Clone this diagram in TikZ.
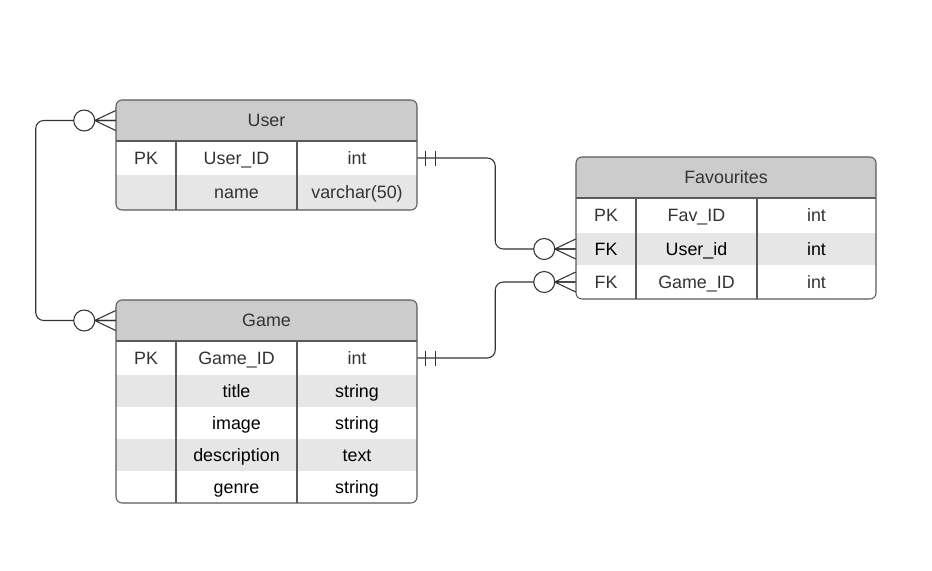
\documentclass[tikz,border=0pt]{standalone}
\usepackage{fontspec}
\setmainfont{Liberation Sans}
\definecolor{hdrgray}{HTML}{CCCCCC}
\definecolor{rowgray}{HTML}{E6E6E6}
\definecolor{edgegray}{HTML}{5A5A5A}
\definecolor{txtgray}{HTML}{333333}

\tikzset{
  every node/.style={font=\fontsize{13.4}{15}\selectfont, text=txtgray,
    inner sep=0pt, text height=9.5pt, text depth=0pt},
  hdr/.style={fill=hdrgray, minimum width=225.75pt, minimum height=30.75pt},
  keycell/.style={minimum width=45pt},
  typecell/.style={minimum width=90pt},
  dark/.style={text=black},
  tbl/.style={draw=edgegray, line width=0.8pt},
  conn/.style={draw=txtgray, line width=0.8pt},
  zeromany/.pic={
    \draw[conn] (-21,0) -- (0,-10) (-21,0) -- (0,0) (-21,0) -- (0,10);
    \draw[conn, fill=white] (-31.5,0) circle[radius=10.5];
  },
  onlyone/.pic={
    \draw[conn] (8,-7.5) -- (8,7.5) (18,-7.5) -- (18,7.5);
  }
}

\begin{document}
\begin{tikzpicture}[x=0.75pt, y=-0.75pt]
  \useasboundingbox[fill=white] (0,0) rectangle (932,571);

  % User
  \begin{scope}
    \clip[rounded corners=4.5pt] (116,100) rectangle (417,210);
    \node[hdr] (user) at (266.5,120.5) {User};
    \fill[rowgray] (116,175) rectangle (417,210);
  \end{scope}
  \node[keycell] (user-pk) at (146,158) {PK};
  \node (user-id) at (236.5,158) {User\_ID};
  \node[typecell] (user-id-type) at (357,158) {int};
  \node (user-name) at (236.5,192.5) {name};
  \node[typecell] (user-name-type) at (357,192.5) {varchar(50)};
  \draw[tbl, rounded corners=4.5pt] (116,100) rectangle (417,210);
  \draw[tbl] (116,141) -- (417,141) (176,141) -- (176,210) (297,141) -- (297,210);

  % Game
  \begin{scope}
    \clip[rounded corners=4.5pt] (116,300) rectangle (417,503);
    \node[hdr] (game) at (266.5,320.5) {Game};
    \fill[rowgray] (116,375) rectangle (417,407);
    \fill[rowgray] (116,439) rectangle (417,471);
  \end{scope}
  \node[keycell] (game-pk) at (146,358) {PK};
  \node (game-id) at (236.5,358) {Game\_ID};
  \node[typecell] (game-id-type) at (357,358) {int};
  \foreach \y/\n/\t in {391/title/string, 423/image/string,
                        455/description/text, 487/genre/string} {
    \node[dark] (game-\n) at (236.5,\y) {\n};
    \node[dark, typecell] (game-\n-type) at (357,\y) {\t};
  }
  \draw[tbl, rounded corners=4.5pt] (116,300) rectangle (417,503);
  \draw[tbl] (116,341) -- (417,341) (176,341) -- (176,503) (297,341) -- (297,503);

  % Favourites
  \begin{scope}
    \clip[rounded corners=4.5pt] (576,157) rectangle (876,299);
    \node[hdr] (fav) at (726,177.5) {Favourites};
    \fill[rowgray] (576,233) rectangle (876,265);
  \end{scope}
  \node[keycell] (fav-pk) at (606,215) {PK};
  \node (fav-id) at (696.5,215) {Fav\_ID};
  \node[typecell] (fav-id-type) at (816.5,215) {int};
  \node[keycell, dark] (fav-uid-fk) at (606,249) {FK};
  \node[dark] (fav-uid) at (696.5,249) {User\_id};
  \node[typecell, dark] (fav-uid-type) at (816.5,249) {int};
  \node[keycell] (fav-gid-fk) at (606,282) {FK};
  \node (fav-gid) at (696.5,282) {Game\_ID};
  \node[typecell] (fav-gid-type) at (816.5,282) {int};
  \draw[tbl, rounded corners=4.5pt] (576,157) rectangle (876,299);
  \draw[tbl] (576,198) -- (876,198) (636,198) -- (636,299) (757,198) -- (757,299);

  % relations
  \draw[conn, rounded corners=6pt] (user.west) -- ++(-80,0) |- (game.west);
  \draw[conn, rounded corners=6pt] (user-id-type.east) -- ++(78,0) |- (fav-uid-fk.west);
  \draw[conn, rounded corners=6pt] (game-id-type.east) -- ++(78,0) |- (fav-gid-fk.west);
  \path (user.west) pic {zeromany} (game.west) pic {zeromany}
        (fav-uid-fk.west) pic {zeromany} (fav-gid-fk.west) pic {zeromany};
  \path (user-id-type.east) pic {onlyone} (game-id-type.east) pic {onlyone};
\end{tikzpicture}
\end{document}
